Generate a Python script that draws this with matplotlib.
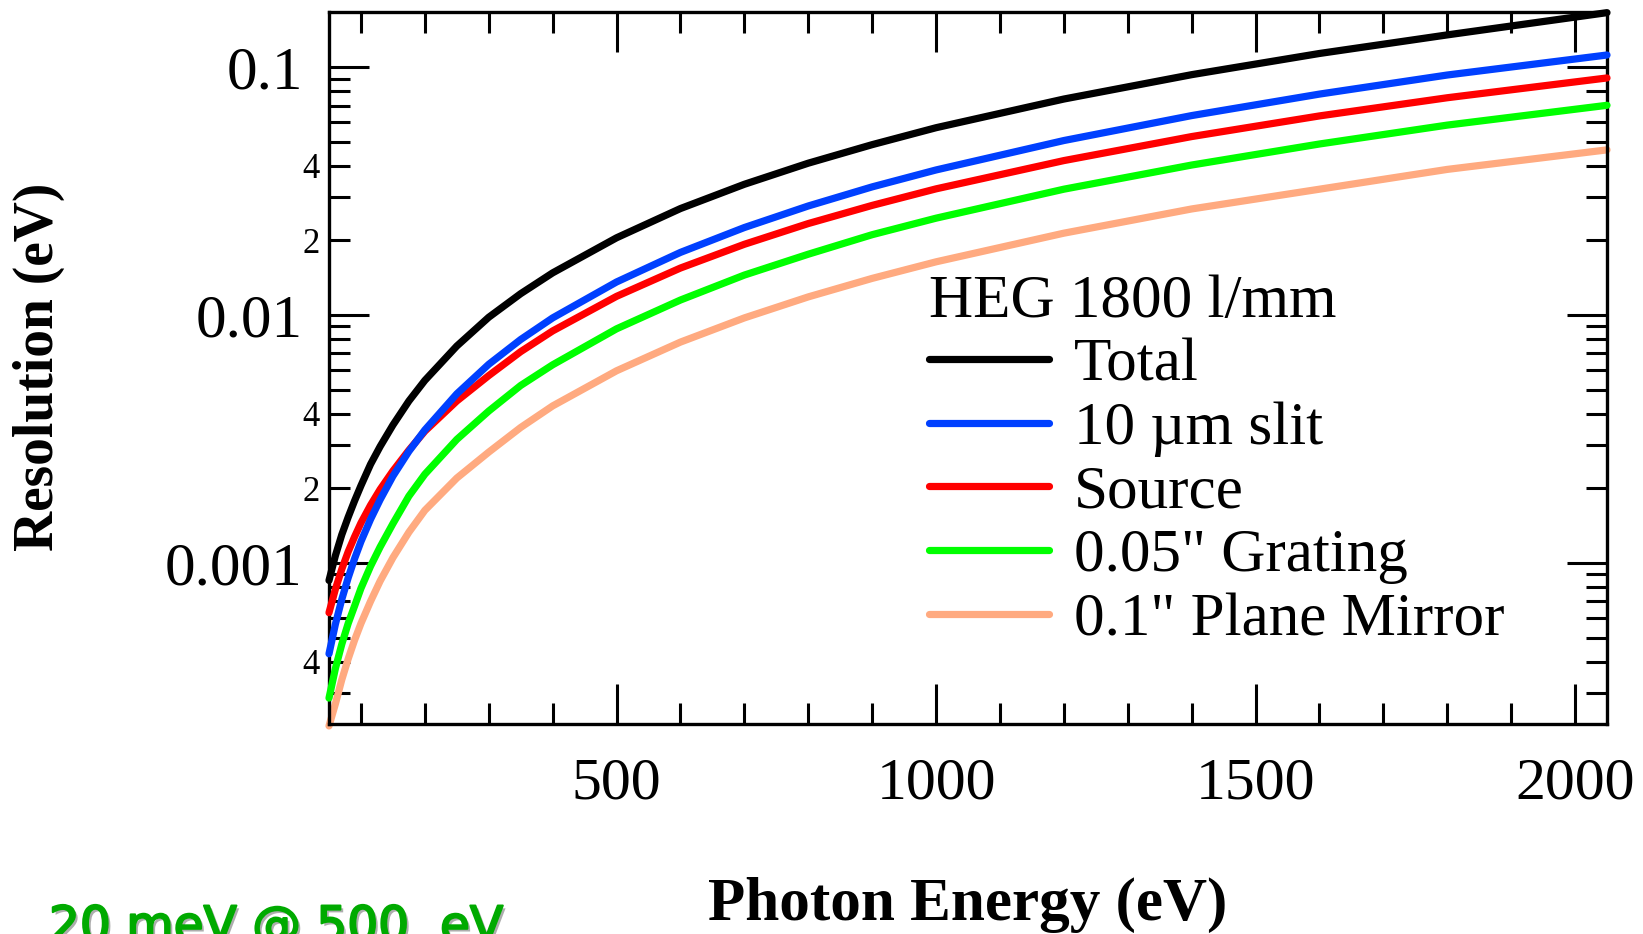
import numpy as np
import matplotlib
matplotlib.use('Agg')
import matplotlib.pyplot as plt
import matplotlib.patheffects as pe
from matplotlib.ticker import MultipleLocator, LogLocator, FuncFormatter

# photon energy (eV) and resolution contributions (eV)
energy = [50, 60, 70, 80, 90, 100, 115, 130, 150, 175, 200, 250, 300, 350, 400,
          500, 600, 700, 800, 900, 1000, 1200, 1400, 1600, 1800, 2050]
total = [8.5e-4, 1.07e-3, 1.3e-3, 1.53e-3, 1.78e-3, 2.05e-3, 2.5e-3, 2.95e-3, 3.6e-3, 4.5e-3,
         5.45e-3, 7.5e-3, 9.8e-3, 0.0122, 0.0148, 0.0205, 0.0269, 0.0337, 0.041, 0.0487,
         0.057, 0.0744, 0.0933, 0.1136, 0.135, 0.166]
slit = [4.3e-4, 5.66e-4, 7.13e-4, 8.71e-4, 1.04e-3, 1.22e-3, 1.5e-3, 1.8e-3, 2.24e-3, 2.82e-3,
        3.44e-3, 4.81e-3, 6.33e-3, 7.97e-3, 9.74e-3, 0.0136, 0.0179, 0.02255, 0.02755, 0.0329,
        0.0385, 0.0506, 0.0638, 0.0779, 0.093, 0.112]
source = [6.3e-4, 7.84e-4, 9.44e-4, 1.11e-3, 1.275e-3, 1.45e-3, 1.71e-3, 1.98e-3, 2.35e-3, 2.85e-3,
          3.4e-3, 4.5e-3, 5.7e-3, 7.12e-3, 8.63e-3, 0.0119, 0.01548, 0.0193, 0.0234, 0.0277,
          0.0323, 0.042, 0.0525, 0.0636, 0.0753, 0.0905]
grating = [2.85e-4, 3.75e-4, 4.7e-4, 5.7e-4, 6.7e-4, 7.9e-4, 9.7e-4, 1.16e-3, 1.44e-3, 1.86e-3,
           2.28e-3, 3.15e-3, 4.1e-3, 5.2e-3, 6.3e-3, 0.0088, 0.0115, 0.0145, 0.0176, 0.0211,
           0.0246, 0.0322, 0.0403, 0.049, 0.0584, 0.0702]
mirror = [2.2e-4, 2.7e-4, 3.38e-4, 4.1e-4, 4.88e-4, 5.7e-4, 7.0e-4, 8.45e-4, 1.05e-3, 1.33e-3,
          1.63e-3, 2.2e-3, 2.8e-3, 3.52e-3, 4.3e-3, 5.96e-3, 7.78e-3, 9.74e-3, 0.01184, 0.01406,
          0.0164, 0.0214, 0.0268, 0.0322, 0.0387, 0.0464]

labels = ['Total', '10 µm slit', 'Source', '0.05" Grating', '0.1" Plane Mirror']
colors = ['#000000', '#0040ff', '#ff0000', '#00ff00', '#ffaa80']
series = [total, slit, source, grating, mirror]
zorders = [6, 5, 4, 3, 2]

plt.rcParams['font.family'] = ['Liberation Serif', 'DejaVu Serif']

fig = plt.figure(figsize=(16.43, 9.34), dpi=100)
ax = fig.add_axes([329/1643, 1 - 724/934, (1607 - 329)/1643, (724 - 12)/934])

handles = []
for y, c, lab, z in zip(series, colors, labels, zorders):
    h, = ax.plot(energy, y, color=c, lw=5.2, label=lab, zorder=z,
                 solid_capstyle='round', solid_joinstyle='round', clip_on=False)
    handles.append(h)

ax.set_yscale('log')
ax.set_xlim(50, 2050)
ax.set_ylim(2.24e-4, 0.167)

ax.xaxis.set_major_locator(MultipleLocator(500))
ax.xaxis.set_minor_locator(MultipleLocator(100))
ax.yaxis.set_major_locator(LogLocator(base=10))
ax.yaxis.set_minor_locator(LogLocator(base=10, subs=np.arange(2, 10)))
ax.yaxis.set_major_formatter(FuncFormatter(
    lambda v, p: {0.1: '0.1', 0.01: '0.01', 0.001: '0.001'}.get(round(v, 6), '')))

def minor_fmt(v, pos):
    m = v / 10 ** np.floor(np.log10(v) + 1e-9)
    k = int(round(m))
    return str(k) if k in (2, 4) else ''

ax.yaxis.set_minor_formatter(FuncFormatter(minor_fmt))

for s in ax.spines.values():
    s.set_linewidth(2.4)
ax.tick_params(which='both', direction='in', top=True, right=True, width=2.2)
ax.tick_params(which='major', length=29)
ax.tick_params(which='minor', length=15)
ax.tick_params(axis='y', which='major', labelsize=44, pad=19)
ax.tick_params(axis='y', which='minor', labelsize=25, pad=7)
ax.tick_params(axis='x', which='major', labelsize=43, pad=24)

leg = ax.legend(handles=handles, title='HEG 1800 l/mm', frameon=False, fontsize=44,
                title_fontsize=44, handlelength=1.96, handletextpad=0.41,
                labelspacing=0.13, alignment='left', loc='upper left',
                borderpad=0, borderaxespad=0,
                bbox_to_anchor=(929/1643, 1 - 274/934), bbox_transform=fig.transFigure)
for line in leg.get_lines():
    line.set_linewidth(5.2)

fig.text(39/1643, 1 - 367/934, 'Resolution (eV)', rotation=90, fontsize=40,
         fontweight='bold', ha='center', va='center')
fig.text(968/1643, 1 - 920/934, 'Photon Energy (eV)', fontsize=44,
         fontweight='bold', ha='center', va='baseline')

fig.text(49/1643, 1 - 903/934, '20 meV @ 500  eV', fontsize=35, color='#00aa00',
         family='DejaVu Sans', va='top', ha='left',
         path_effects=[pe.SimplePatchShadow(offset=(2, -2), shadow_rgbFace='#999999', alpha=0.8),
                       pe.withStroke(linewidth=1.5, foreground='#00aa00')])

fig.savefig('out.png', dpi=100)
